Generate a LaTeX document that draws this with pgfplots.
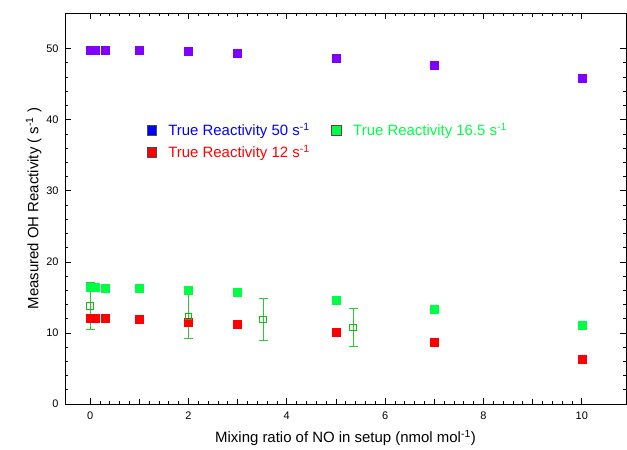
\documentclass[border=0pt]{standalone}
\usepackage{pgfplots}
\pgfplotsset{compat=1.18}
\usepackage{fontspec}
\setmainfont{Liberation Sans}
\definecolor{cpurple}{HTML}{8000FF}
\definecolor{cgreen}{HTML}{00FF44}
\definecolor{cred}{HTML}{FF0000}
\definecolor{cblue}{HTML}{0000FF}
\definecolor{copen}{HTML}{10C010}
\definecolor{cerr}{HTML}{30C830}
\begin{document}
\begin{tikzpicture}
\begin{axis}[
  scale only axis, width=561bp, height=391bp,
  xmin=-0.51, xmax=10.9, ymin=0, ymax=55,
  xtick={0,2,...,10}, minor x tick num=9,
  ytick={0,10,...,50}, minor y tick num=4,
  extra x ticks={1,3,5,7,9}, extra x tick labels={},
  extra x tick style={major tick length=4.5bp, grid=none},
  tick align=inside,
  major tick length=6bp, minor tick length=3bp,
  axis line style={black, line width=0.8pt},
  every tick/.style={black, line width=0.6pt},
  /pgf/number format/assume math mode=true,
  tick label style={font=\fontsize{11}{13}\selectfont},
  xticklabel style={yshift=-4bp},
  yticklabel style={xshift=-3bp},
  label style={font=\fontsize{15}{17}\selectfont},
  xlabel={Mixing ratio of NO in setup (nmol mol\textsuperscript{-1})},
  ylabel={Measured OH Reactivity ( s\textsuperscript{-1} )},
  xlabel style={yshift=-4bp},
  ylabel style={yshift=-2bp},
  legend style={at={(0.140,0.728)}, anchor=north west, draw=none, fill=none,
    font=\fontsize{15}{18}\selectfont, row sep=4bp},
  legend columns=2,
  legend cell align=left,
  /tikz/every odd column/.append style={column sep=10bp},
  /tikz/every even column/.append style={column sep=20bp},
]
% legend entries
\addlegendimage{only marks, mark=square*, mark size=4.8bp, mark options={fill=cblue, draw=black!70}}
\addlegendentry{\textcolor{cblue}{True Reactivity 50 s\textsuperscript{-1}}}
\addlegendimage{only marks, mark=square*, mark size=4.8bp, mark options={fill=cgreen, draw=black!70}}
\addlegendentry{\textcolor{cgreen}{True Reactivity 16.5 s\textsuperscript{-1}}}
\addlegendimage{only marks, mark=square*, mark size=4.8bp, mark options={fill=cred, draw=black!70}}
\addlegendentry{\textcolor{cred}{True Reactivity 12 s\textsuperscript{-1}}}

% data: true reactivity 50
\addplot[only marks, mark=square*, mark size=4bp, color=cpurple, forget plot] coordinates {
(0,49.7) (0.1,49.7) (0.3,49.7) (1,49.7) (2,49.6) (3,49.3) (5,48.6) (7,47.6) (10,45.8)};
% 16.5
\addplot[only marks, mark=square*, mark size=4bp, color=cgreen, forget plot] coordinates {
(0,16.4) (0.1,16.4) (0.3,16.3) (1,16.3) (2,16.0) (3,15.7) (5,14.6) (7,13.3) (10,11.1)};
% 12
\addplot[only marks, mark=square*, mark size=4bp, color=cred, forget plot] coordinates {
(0,12.1) (0.1,12.1) (0.3,12.1) (1,11.9) (2,11.5) (3,11.2) (5,10.1) (7,8.7) (10,6.3)};
% open squares with error bars
\addplot[forget plot, only marks, mark=square, mark size=3.3bp, color=copen, mark options={line width=0.8pt},
  error bars/.cd, y dir=both, y explicit,
  error bar style={cerr, line width=1pt},
  error mark options={rotate=90, mark size=4.5bp, cerr, line width=1pt}] coordinates {
(0,13.8) +- (0,3.3)
(2,12.3) +- (0,3.05)
(3.52,11.9) +- (0,3.0)
(5.35,10.8) +- (0,2.7)};
\end{axis}
\pgfresetboundingbox
\path (current axis.south west) ++(-65bp,-46bp) coordinate (bl);
\path (current axis.north east) ++(1bp,13bp) coordinate (tr);
\useasboundingbox (bl) rectangle (tr);
\end{tikzpicture}
\end{document}
